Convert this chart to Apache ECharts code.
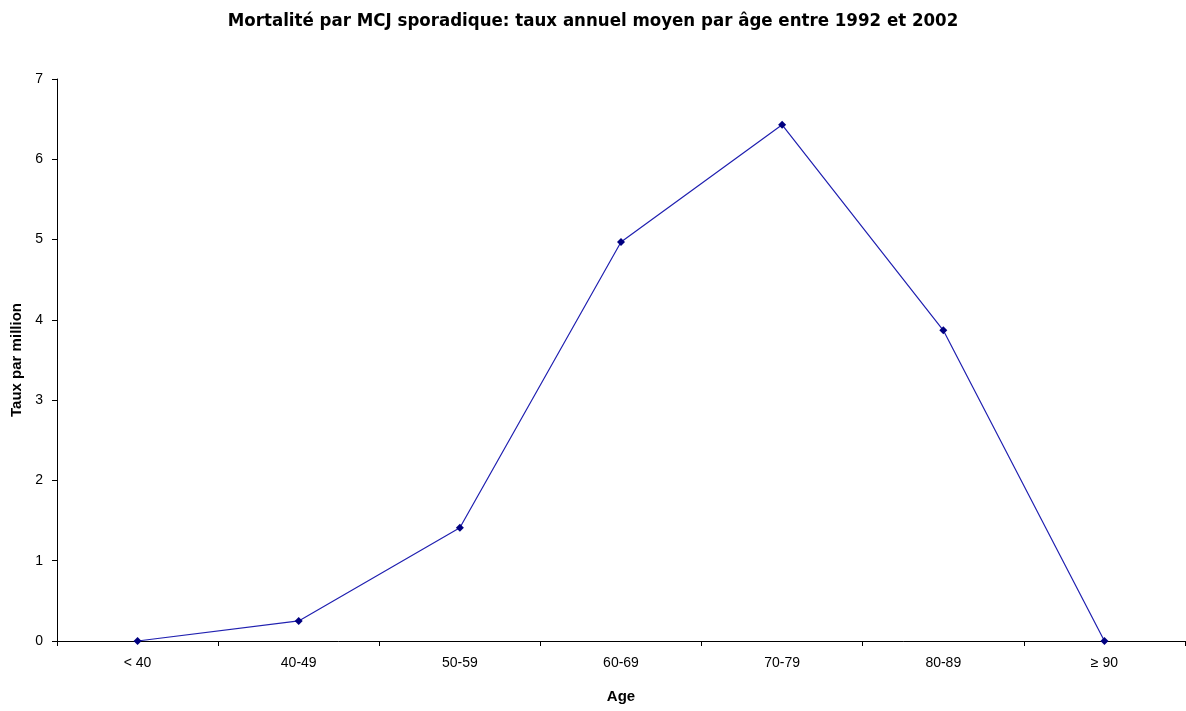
<!DOCTYPE html>
<html style="height: 100%">
<head>
    <meta charset="utf-8">
    <script src="https://cdn.jsdelivr.net/npm/echarts@6/dist/echarts.min.js"></script>
</head>
<body style="margin:0; height: 711px; width: 1186px; background-color: #fff">
    <div id="container" style="height: 711px; width: 1186px"></div>
    <script type="text/javascript">
        // données
        var ageGroups = ['< 40', '40-49', '50-59', '60-69', '70-79', '80-89', '≥ 90'];
        var tauxParMillion = [0, 0.25, 1.41, 4.97, 6.43, 3.87, 0];
        var yMin = 0, yMax = 7, yStep = 1;

        var myChart = echarts.init(document.getElementById('container'));
        var font = 'Arial, "Liberation Sans", sans-serif';

        var option = {
            animation: false,
            title: {
                text: 'Mortalité par MCJ sporadique: taux annuel moyen par âge entre 1992 et 2002',
                left: 'center',
                top: 7,
                textStyle: {
                    fontFamily: '"Liberation Sans Narrow", "DejaVu Sans Condensed", Arial, sans-serif',
                    fontSize: 18.5,
                    fontWeight: 'bold',
                    color: '#000'
                }
            },
            grid: { left: 57, right: 1, top: 79, bottom: 70, containLabel: false },
            xAxis: {
                type: 'category',
                data: ageGroups,
                boundaryGap: true,
                name: 'Age',
                nameLocation: 'middle',
                nameGap: 48,
                nameTextStyle: { fontFamily: font, fontSize: 15, fontWeight: 'bold', color: '#000' },
                axisLine: { lineStyle: { color: '#000', width: 1 } },
                axisTick: { show: true, length: 5, lineStyle: { color: '#000' } },
                axisLabel: { fontFamily: font, fontSize: 14, color: '#000', margin: 15 },
                splitLine: { show: false }
            },
            yAxis: {
                type: 'value',
                min: yMin,
                max: yMax,
                interval: yStep,
                name: 'Taux par million',
                nameLocation: 'middle',
                nameGap: 31,
                nameTextStyle: { fontFamily: font, fontSize: 15, fontWeight: 'bold', color: '#000' },
                axisLine: { show: true, lineStyle: { color: '#000', width: 1 } },
                axisTick: { show: true, length: 5, lineStyle: { color: '#000' } },
                axisLabel: { fontFamily: font, fontSize: 14, color: '#000', margin: 14 },
                splitLine: { show: false }
            },
            series: [{
                type: 'line',
                data: tauxParMillion,
                symbol: 'diamond',
                symbolSize: 8,
                showAllSymbol: true,
                lineStyle: { color: '#2020b0', width: 1.2 },
                itemStyle: { color: '#000080', borderWidth: 0 }
            }]
        };
        myChart.setOption(option);
    </script>
</body>
</html>
